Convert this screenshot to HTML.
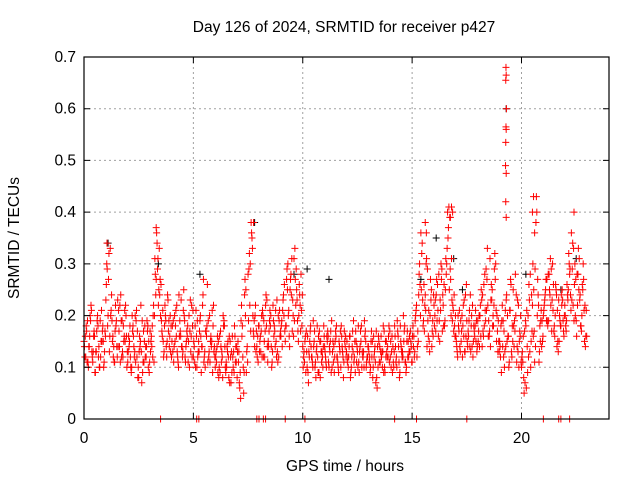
<!DOCTYPE html>
<html><head><meta charset="utf-8"><style>
body{margin:0;background:#fff}
svg text{font-family:"Liberation Sans",Arial,sans-serif;font-size:15.5px;fill:#000}
</style></head><body>
<svg id="chart" width="640" height="480" xmlns="http://www.w3.org/2000/svg">
<rect width="640" height="480" fill="#fff"/>
<g id="grid"></g>
<g id="points"></g>
<g id="axes"></g>
<text x="344" y="32" text-anchor="middle">Day 126 of 2024, SRMTID for receiver p427</text>
<text x="345" y="471" text-anchor="middle">GPS time / hours</text>
<text transform="translate(19,238) rotate(-90)" text-anchor="middle">SRMTID / TECUs</text>
</svg>
<script>
const xTicks=[0,5,10,15,20];
const yTicks=[0,0.1,0.2,0.3,0.4,0.5,0.6,0.7];
const yTickLabels=["0","0.1","0.2","0.3","0.4","0.5","0.6","0.7"];
const stepA=0.08, startA=0;
const valsA=[.15,.12,.19,.14,.22,.11,.16,.13,.18,.10,.21,.15,.17,
.30,.27,.33,.19,.14,.22,.12,.17,.24,.13,.16,.20,
.11,.15,.09,.18,.13,.21,.10,.14,.07,.17,.12,.19,.15,
.13,.18,.11,.24,.29,.33,.26,.21,.18,.14,.23,.16,
.12,.19,.15,.22,.10,.17,.14,.25,.11,.16,.20,.13,.18,
.14,.21,.12,.17,.09,.24,.13,.16,.19,.11,.15,.22,
.10,.14,.08,.17,.12,.19,.09,.13,.16,.07,.12,.18,.11,
.15,.06,.22,.10,.27,.13,.19,.30,.35,.16,.22,.12,
.18,.13,.21,.15,.24,.11,.19,.14,.22,.17,.12,.20,.16,
.19,.24,.15,.29,.21,.27,.17,.31,.22,.19,.26,.28,
.14,.11,.17,.09,.15,.12,.19,.10,.14,.16,.08,.13,.18,
.12,.15,.10,.17,.13,.09,.16,.11,.14,.18,.12,.15,
.13,.10,.16,.12,.19,.09,.14,.11,.17,.13,.10,.15,.12,
.11,.15,.08,.13,.17,.10,.14,.12,.18,.09,.13,.16,
.12,.16,.10,.14,.19,.11,.15,.13,.17,.09,.12,.16,.14,
.18,.13,.22,.15,.26,.32,.19,.24,.14,.21,.27,.17,
.22,.17,.26,.19,.30,.24,.18,.28,.35,.39,.31,.21,.16,
.14,.18,.13,.20,.16,.24,.15,.19,.13,.22,.17,.15,
.19,.14,.25,.17,.28,.21,.16,.31,.23,.18,.27,.20,.15,
.12,.22,.17,.14,.20,.11,.26,.15,.19,.24,.13,.17,
.10,.16,.07,.21,.12,.28,.17,.25,.14,.20,.11,.19,.15,
.22,.27,.18,.25,.29,.21,.16,.24,.13,.19,.22,.17,
.20,.26,.32,.24,.29,.19,.27,.22,.31,.18,.25,.15,.21];
const stepB=0.08, startB=0.04;
const valsB=[.12,.17,.10,.20,.13,.16,.09,.19,.14,.12,.17,.11,
.23,.18,.13,.21,.16,.11,.19,.14,.22,.12,.18,.15,.10,
.16,.12,.20,.14,.11,.17,.13,.22,.09,.15,.12,.18,
.11,.16,.20,.31,.36,.22,.27,.17,.12,.20,.15,.19,.13,
.18,.14,.21,.12,.16,.23,.13,.19,.15,.11,.17,.22,
.12,.18,.10,.15,.20,.14,.11,.17,.26,.13,.16,.09,.14,
.13,.09,.16,.11,.20,.14,.10,.12,.15,.09,.13,.11,
.08,.13,.04,.18,.09,.25,.11,.32,.38,.20,.14,.17,.11,
.15,.20,.12,.17,.23,.14,.18,.11,.16,.21,.13,.19,
.16,.21,.26,.18,.30,.14,.24,.20,.33,.25,.15,.22,.18,
.12,.16,.10,.13,.18,.11,.15,.08,.12,.17,.13,.10,
.14,.10,.16,.13,.19,.11,.15,.12,.09,.17,.14,.11,.16,
.11,.14,.09,.17,.12,.15,.10,.13,.18,.12,.16,.11,
.14,.09,.12,.16,.11,.06,.15,.13,.10,.17,.12,.14,.11,
.10,.14,.18,.12,.16,.09,.13,.20,.11,.15,.12,.17,
.11,.16,.20,.14,.28,.36,.23,.17,.30,.19,.13,.25,.16,
.20,.27,.16,.23,.29,.18,.25,.33,.41,.27,.19,.24,
.16,.12,.21,.15,.18,.13,.26,.17,.14,.20,.15,.18,.13,
.17,.22,.14,.26,.19,.33,.16,.23,.18,.29,.21,.13,
.15,.09,.19,.13,.24,.16,.21,.12,.18,.28,.14,.10,.20,
.13,.05,.18,.09,.23,.15,.30,.11,.43,.24,.18,.14,
.20,.24,.27,.19,.31,.23,.17,.26,.21,.15,.18,.23,.20,
.17,.23,.28,.36,.22,.30,.16,.33,.24,.20,.27,.14];
const stepC=0.08, startC=0.02;
const valsC=[.14,.18,.11,.16,.21,.13,.09,.17,.12,.19,.15,.10,.16,
.29,.32,.20,.15,.11,.18,.23,.14,.19,.12,.21,.16,
.13,.18,.10,.16,.20,.12,.08,.15,.19,.11,.14,.17,.09,
.15,.12,.20,.27,.31,.24,.19,.15,.22,.12,.17,.20,
.15,.11,.18,.13,.24,.16,.12,.20,.14,.18,.10,.16,.21,
.11,.16,.13,.19,.14,.27,.10,.18,.12,.15,.21,.13,
.12,.16,.10,.14,.08,.18,.11,.15,.07,.13,.10,.16,.14,
.11,.09,.16,.05,.20,.14,.29,.17,.33,.19,.13,.16,
.13,.17,.20,.12,.18,.15,.21,.10,.19,.14,.23,.12,.17,
.14,.20,.18,.25,.16,.28,.23,.19,.29,.17,.24,.21,
.10,.15,.13,.07,.17,.12,.14,.11,.18,.09,.15,.12,.16,
.11,.17,.14,.09,.15,.12,.18,.10,.13,.16,.08,.14,
.15,.12,.08,.14,.11,.17,.13,.09,.15,.12,.19,.10,.14,
.12,.17,.10,.14,.08,.16,.11,.13,.09,.15,.12,.18,
.15,.09,.13,.11,.17,.08,.14,.12,.18,.10,.15,.13,.11,
.14,.19,.12,.24,.20,.34,.26,.21,.29,.15,.23,.19,
.18,.24,.21,.15,.27,.22,.19,.30,.37,.29,.23,.17,.20,
.13,.17,.19,.12,.23,.16,.14,.21,.18,.12,.16,.19,
.15,.20,.23,.16,.21,.27,.19,.14,.25,.22,.30,.17,.13,
.18,.14,.10,.23,.16,.21,.13,.25,.17,.11,.22,.16,
.12,.08,.19,.14,.26,.10,.22,.17,.38,.27,.13,.21,.16,
.23,.19,.28,.24,.17,.26,.20,.14,.23,.18,.25,.16,
.18,.24,.30,.21,.34,.26,.19,.28,.23,.17,.30,.22,.16];
const stepD=0.08, startD=0.06;
const valsD=[.16,.11,.14,.19,.12,.17,.13,.20,.10,.15,.18,.13,
.26,.20,.16,.24,.12,.17,.14,.21,.11,.19,.15,.22,.13,
.14,.10,.17,.12,.19,.08,.16,.13,.11,.18,.14,.10,
.17,.14,.22,.28,.34,.25,.20,.16,.13,.19,.24,.14,.18,
.13,.20,.16,.11,.19,.14,.21,.12,.17,.15,.23,.12,
.15,.10,.19,.13,.16,.22,.12,.17,.11,.20,.14,.18,.12,
.11,.15,.09,.13,.18,.10,.14,.08,.12,.16,.09,.14,
.13,.07,.19,.12,.24,.09,.28,.22,.36,.17,.20,.14,.18,
.16,.12,.19,.22,.14,.17,.20,.13,.18,.15,.11,.21,
.18,.23,.17,.27,.20,.25,.31,.16,.27,.23,.20,.17,.24,
.13,.09,.16,.12,.14,.10,.17,.13,.09,.15,.11,.14,
.13,.16,.11,.15,.10,.14,.17,.12,.15,.10,.13,.17,.12,
.12,.16,.10,.13,.15,.11,.18,.14,.10,.13,.17,.12,
.13,.10,.15,.12,.07,.14,.11,.16,.13,.10,.15,.12,.17,
.13,.11,.16,.10,.14,.18,.12,.15,.11,.17,.13,.15,
.16,.12,.21,.17,.30,.25,.18,.22,.31,.16,.20,.14,.24,
.23,.19,.28,.21,.17,.26,.31,.40,.25,.20,.22,.18,
.15,.20,.14,.17,.22,.13,.19,.16,.24,.14,.18,.21,.14,
.20,.16,.24,.18,.29,.22,.17,.26,.20,.32,.15,.19,
.14,.19,.12,.21,.15,.10,.27,.18,.14,.20,.23,.15,.11,
.11,.17,.06,.20,.13,.24,.16,.29,.40,.22,.15,.19,
.21,.25,.19,.28,.22,.30,.18,.25,.15,.20,.24,.19,.22,
.19,.25,.29,.23,.33,.20,.28,.25,.18,.26,.21,.16];
const spikeT=[19.29,19.3,19.28,19.31,19.29,19.3,19.28,19.27,19.3,19.28,19.3,16.8,16.85,16.75,15.6,15.65,7.75,3.3,22.4,20.55,20.5,20.6,1.05];
const spikeV=[.68,.665,.655,.60,.565,.56,.535,.49,.475,.42,.39,.41,.40,.39,.38,.36,.38,.37,.40,.43,.40,.36,.34];
const blackT=[1.1,3.4,5.3,7.8,9.6,10.2,11.2,15.4,16.1,16.9,17.3,19.3,20.2,21.8,22.5];
const blackV=[.34,.30,.28,.38,.28,.29,.27,.27,.35,.31,.25,.60,.28,.25,.31];
const zeroT=[3.5,5.15,5.25,7.9,8.0,8.2,8.3,9.2,10.1,14.2,15.2,17.5,21.0,21.7,21.8,22.2];

const X0=84,X1=609,Y0=419,Y1=57,XMAX=24,YMAX=0.7;
function sx(t){return X0+(X1-X0)*t/XMAX;}
function sy(v){return Y0-(Y0-Y1)*v/YMAX;}
const NS="http://www.w3.org/2000/svg";
function mk(tag,attrs,parent){const e=document.createElementNS(NS,tag);for(const k in attrs)e.setAttribute(k,attrs[k]);parent.appendChild(e);return e;}
const grid=document.getElementById('grid'),pts=document.getElementById('points'),axes=document.getElementById('axes');
xTicks.forEach(t=>{
  if(t>0){const g=mk('line',{x1:sx(t),x2:sx(t),y1:Y0,y2:Y1,stroke:'#a0a0a0','stroke-dasharray':'2,3'},grid);
  
  }
  const tk=mk('path',{d:`M${sx(t)},${Y0}v-6M${sx(t)},${Y1}v6`,stroke:'#000'},axes);
  
  
  const l=mk('text',{x:sx(t),y:Y0+24,'text-anchor':'middle'},axes);l.textContent=String(t);
  
  
});
yTicks.forEach((v,i)=>{
  if(v>0&&v<YMAX){const g=mk('line',{x1:X0,x2:X1,y1:sy(v),y2:sy(v),stroke:'#a0a0a0','stroke-dasharray':'2,3'},grid);
  
  }
  const tk=mk('path',{d:`M${X0},${sy(v)}h6M${X1},${sy(v)}h-6`,stroke:'#000'},axes);
  
  
  const l=mk('text',{x:X0-8,y:sy(v)+5,'text-anchor':'end'},axes);l.textContent=yTickLabels[i];
  
  
});
const frame=mk('rect',{x:X0,y:Y1,width:X1-X0,height:Y0-Y1,fill:'none',stroke:'#000','stroke-width':1.2},axes);


function plus(t,v,color,name){
  const x=sx(t),y=sy(v);
  const p=mk('path',{d:`M${x-3.5},${y}h7M${x},${y-3.5}v7`,stroke:color,'stroke-width':1},pts);
  
  
}
blackT.forEach((t,i)=>plus(t,blackV[i],'#000','black-point'));
valsA.forEach((v,i)=>plus(startA+i*stepA,v,'#ff0000','red-point'));
valsB.forEach((v,i)=>plus(startB+i*stepB,v,'#ff0000','red-point'));
valsC.forEach((v,i)=>plus(startC+i*stepC,v,'#ff0000','red-point'));
valsD.forEach((v,i)=>plus(startD+i*stepD,v,'#ff0000','red-point'));
spikeT.forEach((t,i)=>plus(t,spikeV[i],'#ff0000','spike-point'));
zeroT.forEach(t=>plus(t,0,'#ff0000','zero-point'));
</script>
</body></html>
